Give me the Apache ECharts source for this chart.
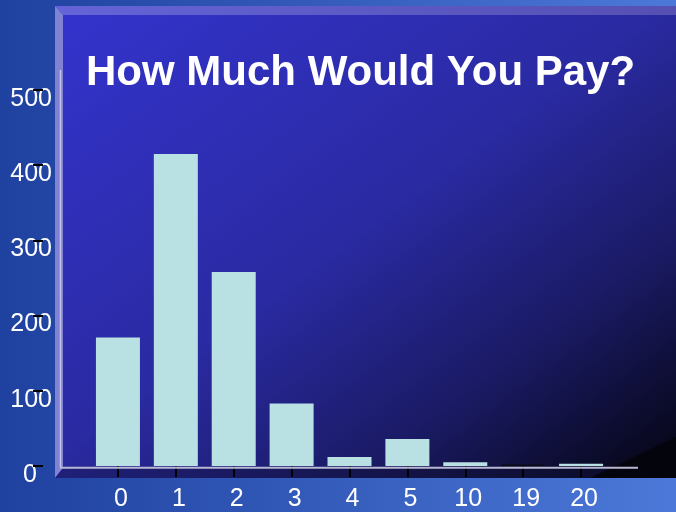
<!DOCTYPE html>
<html>
<head>
<meta charset="utf-8">
<title>How Much Would You Pay?</title>
<script src="https://cdn.jsdelivr.net/npm/echarts@6/dist/echarts.min.js"></script>
<style>
    html, body { margin: 0; padding: 0; }
    #grafico { width: 676px; height: 512px; }
</style>
</head>
<body>
<div id="grafico"></div>
<script>
// Datos del gráfico
const categorias = ['0', '1', '2', '3', '4', '5', '10', '19', '20'];
const respuestas = [171, 415, 258, 83, 12, 36, 5, 2, 3];
const ticksY = [0, 100, 200, 300, 400, 500];

const FUENTE = '"Liberation Sans", Arial, sans-serif';

function obtenerChart(idContenedor) {
    const chartDom = document.getElementById(idContenedor);
    let myChart = echarts.getInstanceByDom(chartDom);
    if (!myChart) {
        myChart = echarts.init(chartDom);
    }
    return myChart;
}

// Decoración: fondo de la diapositiva y el panel "3D"
function decoracion() {
    const G = echarts.graphic;
    return [
        {
            type: 'rect', z: -100,
            shape: {x: 0, y: 0, width: 676, height: 512},
            style: {fill: new G.LinearGradient(0, 0, 1, 0, [
                {offset: 0, color: '#1f419f'},
                {offset: 1, color: '#4c79d9'}
            ])}
        },
        {
            // pared del fondo
            type: 'rect', z: -99,
            shape: {x: 63, y: 15, width: 613, height: 453},
            style: {fill: new G.LinearGradient(63, 15, 496, 601, [
                {offset: 0, color: '#3333cc'},
                {offset: 0.48, color: '#2a2aa2'},
                {offset: 0.75, color: '#1a1a64'},
                {offset: 1, color: '#050512'}
            ], true)}
        },
        {
            // techo
            type: 'polygon', z: -98,
            shape: {points: [[55, 6], [676, 6], [676, 15], [63, 15]]},
            style: {fill: new G.LinearGradient(0, 0, 1, 0, [
                {offset: 0, color: '#6464d8'},
                {offset: 1, color: '#5650b2'}
            ])}
        },
        {
            // pared izquierda
            type: 'polygon', z: -98,
            shape: {points: [[55, 6], [63, 15], [63, 468], [55, 478]]},
            style: {fill: '#8282d4'}
        },
        {
            // suelo
            type: 'polygon', z: -98,
            shape: {points: [[55, 478], [63, 468], [676, 468], [676, 478]]},
            style: {fill: new G.LinearGradient(0, 0, 1, 0, [
                {offset: 0, color: '#20207a'},
                {offset: 1, color: '#0a0a22'}
            ])}
        },
        {
            type: 'polygon', z: -97,
            shape: {points: [[590, 478], [676, 437], [676, 478]]},
            style: {fill: '#04040c'}
        },
        {
            // eje vertical dibujado en la pared
            type: 'line', z: -96,
            shape: {x1: 60.5, y1: 70, x2: 60.5, y2: 468},
            style: {stroke: '#c4c4ec', lineWidth: 1.5}
        },
        {
            // línea base
            type: 'line', z: 5,
            shape: {x1: 60, y1: 467.7, x2: 638, y2: 467.7},
            style: {stroke: '#b8b8d4', lineWidth: 2}
        }
    ];
}

function pintarGrafico(idContenedor = 'grafico') {
    const datos = respuestas.map((v, i) => categorias[i] === '19'
        ? {value: v, itemStyle: {color: '#0b0b14'}}
        : v);

    const escalaY = {
        type: 'value',
        position: 'left',
        min: ticksY[0],
        max: ticksY[ticksY.length - 1],
        interval: ticksY[1] - ticksY[0],
        offset: 46,
        axisLine: {show: false},
        splitLine: {show: false}
    };

    const myChart = obtenerChart(idContenedor);

    const option = {
        animation: false,
        title: {
            text: 'How Much Would You Pay?',
            left: 86,
            top: 52,
            padding: 0,
            textStyle: {
                color: '#fff',
                fontSize: 42,
                fontWeight: 'bold',
                fontFamily: FUENTE
            }
        },
        graphic: decoracion(),
        grid: {left: 89, right: 66, top: 90, bottom: 45},
        xAxis: {
            type: 'category',
            data: categorias,
            axisLine: {show: false},
            axisTick: {
                show: true,
                alignWithLabel: true,
                length: 11,
                lineStyle: {color: '#000', width: 2}
            },
            axisLabel: {
                color: '#fff',
                fontSize: 25,
                fontFamily: FUENTE,
                margin: 21,
                padding: [0, 0, 0, 6]
            }
        },
        yAxis: [
            {
                // etiquetas
                ...escalaY,
                axisTick: {show: false},
                axisLabel: {
                    color: '#fff',
                    fontSize: 25,
                    fontFamily: FUENTE,
                    margin: -9,
                    padding: [18, 0, 0, 0],
                    formatter: v => v === 0 ? '{cero|0}' : String(v),
                    rich: {
                        cero: {
                            color: '#fff',
                            fontSize: 25,
                            fontFamily: FUENTE,
                            padding: [0, 15, 0, 0]
                        }
                    }
                }
            },
            {
                // marcas encima de las etiquetas
                ...escalaY,
                z: 4,
                axisLabel: {show: false},
                axisTick: {
                    show: true,
                    length: 10,
                    lineStyle: {color: '#000', width: 2}
                }
            }
        ],
        series: [
            {
                name: 'Respuestas',
                type: 'bar',
                data: datos,
                barWidth: 44,
                itemStyle: {color: '#b9e0e3'}
            }
        ]
    };

    myChart.setOption(option);
    window.addEventListener('resize', () => myChart.resize());
}

pintarGrafico();
</script>
</body>
</html>
